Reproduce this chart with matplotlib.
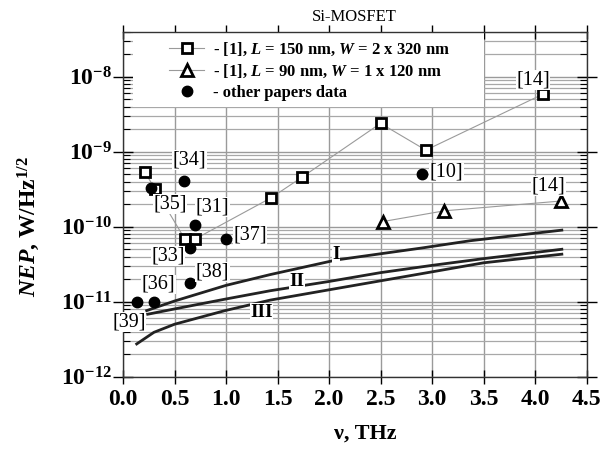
import matplotlib
matplotlib.use("Agg")
import matplotlib.pyplot as plt
from matplotlib.patches import Rectangle
from matplotlib.ticker import LogLocator, NullFormatter

plt.rcParams['font.family'] = ['Liberation Serif', 'DejaVu Serif']
plt.rcParams['mathtext.fontset'] = 'custom'
plt.rcParams['mathtext.rm'] = 'Liberation Serif:bold'
plt.rcParams['mathtext.it'] = 'Liberation Serif:italic:bold'
plt.rcParams['mathtext.bf'] = 'Liberation Serif:bold'

# ---------------- data ----------------
sq_x = [0.21, 0.31, 0.60, 0.70, 1.44, 1.74, 2.50, 2.94, 4.08]
sq_y = [5.4e-10, 3.2e-10, 6.85e-11, 6.85e-11, 2.44e-10, 4.6e-10, 2.39e-9, 1.05e-9, 5.9e-9]

tri_x = [2.52, 3.12, 4.25]
tri_y = [1.17e-10, 1.63e-10, 2.2e-10]

circ_x = [0.14, 0.30, 0.595, 0.27, 0.65, 0.70, 0.65, 1.00, 2.90]
circ_y = [1.0e-11, 1.0e-11, 4.1e-10, 3.3e-10, 5.2e-11, 1.05e-10, 1.76e-11, 6.85e-11, 5.1e-10]

curveI_x = [0.23, 0.50, 1.00, 1.43, 2.07, 2.90, 3.37, 4.26]
curveI_y = [7.6e-12, 1.02e-11, 1.65e-11, 2.3e-11, 3.6e-11, 5.2e-11, 6.5e-11, 9.0e-11]
curveII_x = [0.24, 0.50, 0.99, 1.43, 2.00, 2.50, 3.00, 3.50, 4.26]
curveII_y = [6.8e-12, 8.0e-12, 1.08e-11, 1.4e-11, 1.86e-11, 2.44e-11, 3.05e-11, 3.75e-11, 5.0e-11]
curveIII_x = [0.133, 0.30, 0.50, 0.99, 1.43, 2.00, 3.00, 3.50, 4.26]
curveIII_y = [2.73e-12, 3.9e-12, 5.0e-12, 7.6e-12, 1.05e-11, 1.44e-11, 2.5e-11, 3.3e-11, 4.3e-11]

ref_labels = ['[39]', '[36]', '[34]', '[35]', '[33]', '[31]', '[38]', '[37]', '[10]', '[14]', '[14]']
ref_lx = [0.061, 0.343, 0.645, 0.456, 0.44, 0.87, 0.87, 1.233, 3.14, 3.98, 4.13]
ref_ly = [5.4e-12, 1.7e-11, 7.8e-10, 2.0e-10, 4.07e-11, 1.85e-10, 2.5e-11, 7.76e-11, 5.3e-10, 9.0e-9, 3.5e-10]

curve_labels = ['I', 'II', 'III']
curve_lx = [2.07, 1.69, 1.347]
curve_ly = [4.2e-11, 1.86e-11, 7.2e-12]

legend_labels = [r'- [1], $L$ = 150 nm, $W$ = 2 x 320 nm',
                 r'- [1], $L$ = 90 nm, $W$ = 1 x 120 nm',
                 '- other papers data']

xticks = [0.0, 0.5, 1.0, 1.5, 2.0, 2.5, 3.0, 3.5, 4.0, 4.5]
xtick_labels = ['0.0', '0.5', '1.0', '1.5', '2.0', '2.5', '3.0', '3.5', '4.0', '4.5']
yticks = [1e-12, 1e-11, 1e-10, 1e-9, 1e-8]
ytick_labels = [r'$10^{-12}$', r'$10^{-11}$', r'$10^{-10}$', r'$10^{-9}$', r'$10^{-8}$']

# ---------------- figure ----------------
fig = plt.figure(figsize=(6.11, 4.5), dpi=100)
ax = fig.add_axes([0.2013, 0.163, 0.7587, 0.7667])
ax.set_yscale('log')
ax.set_xlim(0, 4.5)
ax.set_ylim(1e-12, 4e-8)
ax.set_axisbelow(True)

ax.set_xticks(xticks)
ax.set_xticklabels(xtick_labels, fontsize=17, fontweight='bold')
ax.set_yticks(yticks)
ax.set_yticklabels(ytick_labels, fontsize=17)
ax.yaxis.set_minor_locator(LogLocator(base=10, subs=range(2, 10), numticks=20))
ax.yaxis.set_minor_formatter(NullFormatter())

ax.grid(True, which='major', color='#9a9a9a', linewidth=1.0)
ax.grid(True, which='minor', axis='y', color='#a8a8a8', linewidth=0.9)

ax.tick_params(axis='x', which='major', direction='inout', length=10, width=1.0, pad=4, top=True)
ax.tick_params(axis='y', which='major', direction='inout', length=14, width=1.0, pad=1, right=True)
ax.tick_params(axis='y', which='minor', direction='in', length=5, width=0.8, right=True)
for s in ax.spines.values():
    s.set_color('#333333')
    s.set_linewidth(1.0)

# white legend area
ax.add_patch(Rectangle((0.022, 0.782), 0.756, 0.216, transform=ax.transAxes,
                       facecolor='white', edgecolor='none', zorder=1))

# curves
for cx, cy in [(curveI_x, curveI_y), (curveII_x, curveII_y), (curveIII_x, curveIII_y)]:
    ax.plot(cx, cy, color='#222222', linewidth=2.0, zorder=3, solid_joinstyle='round')

# series
h1, = ax.plot(sq_x, sq_y, color='#9a9a9a', linewidth=0.8, marker='s', markersize=6.5,
              markerfacecolor='white', markeredgecolor='black', markeredgewidth=2.0, zorder=4)
h2, = ax.plot(tri_x, tri_y, color='#9a9a9a', linewidth=0.8, marker='^', markersize=8.5,
              markerfacecolor='white', markeredgecolor='black', markeredgewidth=2.0, zorder=4)
h3, = ax.plot(circ_x, circ_y, linestyle='none', marker='o', markersize=7.5,
              markerfacecolor='black', markeredgecolor='black', zorder=5)

box = dict(facecolor='white', edgecolor='none', pad=0.3)
for t, x, y in zip(ref_labels, ref_lx, ref_ly):
    ax.text(x, y, t, fontsize=14.5, ha='center', va='center', zorder=6, bbox=box)
for t, x, y in zip(curve_labels, curve_lx, curve_ly):
    ax.text(x, y, t, fontsize=14, fontweight='bold', ha='center', va='center', zorder=6, bbox=box)

leg = ax.legend([h1, h2, h3], legend_labels, loc='upper left', bbox_to_anchor=(0.10, 0.975),
                frameon=False, prop={'size': 12, 'weight': 'bold'}, borderpad=0,
                borderaxespad=0, handlelength=2.1, handletextpad=0.5, labelspacing=0.3)
leg.set_zorder(7)

ax.set_title('Si-MOSFET', fontsize=12, pad=8)
ax.set_xlabel('ν, THz', fontsize=16, fontweight='bold')
ax.xaxis.set_label_coords(0.522, -0.135)
ax.set_ylabel(r'$NEP$, W/Hz$^{1/2}$', fontsize=17, fontweight='bold')
ax.yaxis.set_label_coords(-0.175, 0.434)

fig.savefig('out.png', dpi=100)
